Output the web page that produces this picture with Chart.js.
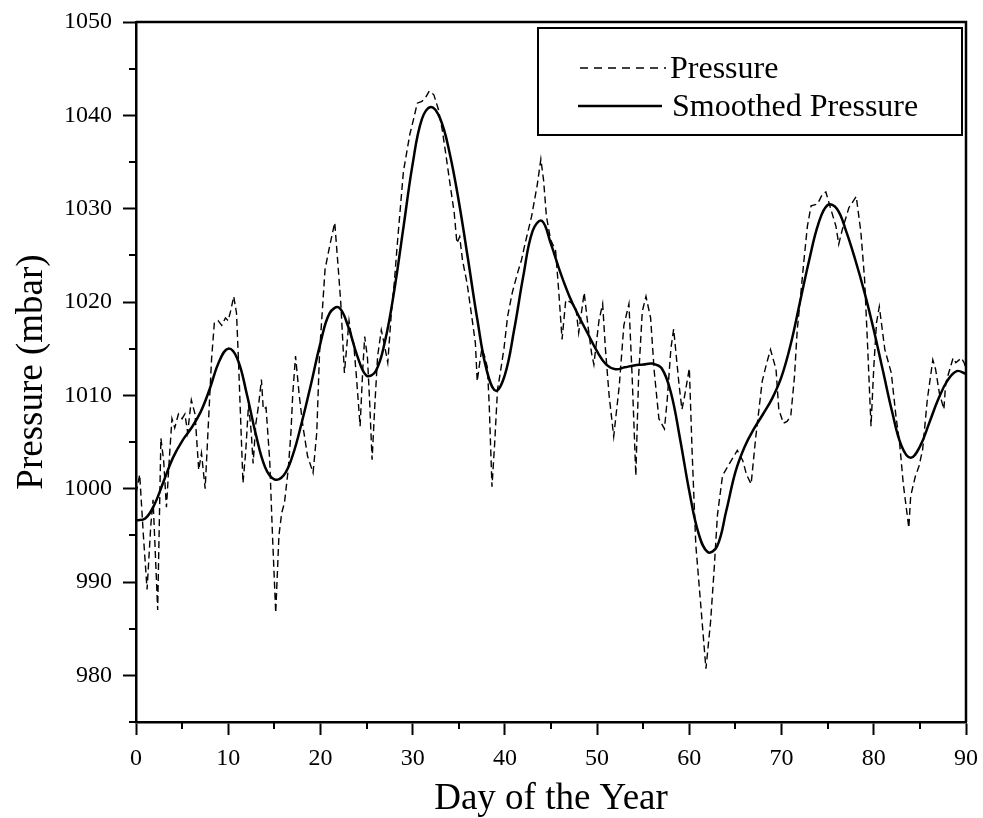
<!DOCTYPE html>
<html>
<head>
<meta charset="utf-8">
<script src="https://cdn.jsdelivr.net/npm/chart.js@4.4.1/dist/chart.umd.min.js"></script>
<style>
  html, body { margin: 0; padding: 0; background: #fff; }
  canvas { display: block; }
</style>
</head>
<body>
<canvas id="chart" width="983" height="818"></canvas>
<script>
// raw pressure readings (day, mbar)
const pressureDays = [
  0, 0.4, 0.8, 1.2, 1.6, 1.85, 2.1, 2.35, 2.7, 3.0, 3.3, 3.6, 3.9, 4.2, 4.6, 5.0, 5.3, 5.6, 6.0, 6.4,
  6.8, 7.1, 7.5, 7.9, 8.2, 8.5, 8.9, 9.3, 9.7, 10.0, 10.3, 10.6, 10.9, 11.1, 11.4, 11.6, 11.9, 12.2, 12.5, 12.7,
  13.0, 13.3, 13.6, 13.8, 14.1, 14.5, 14.8, 15.15, 15.5, 15.8, 16.1, 16.5, 16.8, 17.0, 17.3, 17.7, 18.1, 18.6, 19.2, 19.6,
  19.9, 20.5, 21.0, 21.55, 21.9, 22.2, 22.6, 23.1, 23.4, 23.6, 23.9, 24.3, 24.6, 24.8, 25.1, 25.35, 25.6, 25.9, 26.2, 26.6,
  26.9, 27.3, 27.7, 28.0, 28.4, 29.0, 29.7, 30.1, 30.5, 31.0, 31.4, 31.8, 32.3, 32.8, 33.2, 33.6, 34.0, 34.5, 34.8, 35.1,
  35.4, 35.9, 36.4, 36.8, 37.0, 37.2, 37.5, 37.8, 38.1, 38.3, 38.6, 38.9, 39.2, 39.5, 39.9, 40.3, 40.8, 41.4, 41.8, 42.2,
  42.9, 43.5, 43.9, 44.2, 44.5, 44.95, 45.5, 45.85, 46.2, 46.6, 47.1, 47.7, 48.0, 48.6, 49.0, 49.4, 49.65, 50.2, 50.6, 50.9,
  51.3, 51.8, 52.4, 52.9, 53.45, 53.8, 54.2, 54.5, 54.9, 55.3, 55.8, 56.2, 56.7, 57.3, 57.6, 58.0, 58.3, 58.9, 59.2, 59.5,
  60.0, 60.3, 60.7, 61.2, 61.8, 62.3, 62.7, 63.05, 63.6, 64.3, 65.2, 65.8, 66.2, 66.7, 67.2, 67.9, 68.4, 68.8, 69.4, 69.7,
  70.2, 70.6, 71.0, 71.4, 71.7, 72.1, 72.4, 72.8, 73.2, 73.9, 74.4, 74.8, 75.3, 75.9, 76.2, 76.6, 77.3, 78.1, 78.6, 79.0,
  79.3, 79.7, 80.0, 80.3, 80.6, 81.2, 81.9, 82.4, 82.8, 83.2, 83.8, 84.0, 84.5, 84.9, 85.3, 85.8, 86.4, 86.7, 87.1, 87.6,
  87.8, 88.6, 88.9, 89.5, 89.8, 90.0
];
const pressureValues = [
  999.5, 1001.5, 995, 989.2, 996, 998.8, 993, 987, 1005.4, 1003, 998, 1003, 1007.5, 1006.5, 1008, 1007.5, 1008, 1006, 1009.5, 1008,
  1002, 1003.8, 1000, 1008, 1014, 1017.8, 1018, 1017.5, 1018.3, 1018, 1019.2, 1020.6, 1018.8, 1014, 1006, 1000.6, 1004, 1009, 1006, 1002.7,
  1007, 1009, 1011.7, 1008.5, 1008.7, 1003, 995, 986.7, 995, 997.4, 998.5, 1002, 1006, 1010.2, 1014.2, 1010, 1006.7, 1003.5, 1001.7, 1006,
  1014.5, 1023.5, 1026, 1028.5, 1024, 1020, 1012.4, 1018, 1016, 1015.6, 1012, 1006.7, 1013, 1016.3, 1014, 1009, 1003.1, 1009, 1014.2, 1017,
  1015.6, 1013.5, 1019, 1022, 1027, 1034, 1038, 1039.6, 1041.3, 1041.5, 1041.9, 1042.6, 1042.2, 1040.6, 1038.5, 1035.8, 1033, 1029.6, 1026.3, 1027,
  1024.5, 1022, 1018.5, 1015.6, 1011.5, 1013, 1015, 1014.2, 1013, 1009, 1000.2, 1005, 1010.6, 1012.4, 1015, 1018.5, 1021, 1023.2, 1024.5, 1026.3,
  1029.2, 1032.5, 1035.3, 1033, 1029.2, 1026.7, 1025.5, 1021, 1016, 1020.2, 1020, 1019.4, 1016.7, 1021, 1017.5, 1014.5, 1013.3, 1018, 1019.8, 1015,
  1010, 1005.6, 1011, 1017.5, 1019.8, 1012, 1001.4, 1012, 1019, 1020.6, 1018.3, 1012.5, 1007.5, 1006.4, 1009.5, 1015, 1017.1, 1011, 1008.5, 1010,
  1012.9, 1004, 994, 988, 980.7, 985.7, 991.5, 997.2, 1001.4, 1002.6, 1004.1, 1003, 1001.5, 1000.5, 1005.5, 1011.5, 1013.5, 1014.9, 1012.8, 1008.5,
  1007, 1007.2, 1007.8, 1012, 1017, 1021, 1024.2, 1028.1, 1030.3, 1030.5, 1031.5, 1031.8, 1030.1, 1028.1, 1026.2, 1027.8, 1030.1, 1031.3, 1027.5, 1022.5,
  1016, 1006.7, 1013, 1017.8, 1019.5, 1014.9, 1012.4, 1007.8, 1004.9, 1000.5, 995.8, 999.2, 1001.3, 1002.4, 1004.2, 1009.5, 1013.8, 1012.8, 1010.3, 1008.5,
  1011.3, 1014, 1013.5, 1014, 1013.5, 1012.8
];

// smoothed curve, one value per day 0..90
const smoothValues = [
  996.6, 996.8, 998.3, 1000.8, 1003.3, 1005.1, 1006.5, 1008.2, 1010.7, 1013.6,
  1015.0, 1013.9, 1010.2, 1005.8, 1002.3, 1001.0, 1001.4, 1003.6, 1007.2, 1011.3,
  1015.6, 1018.8, 1019.4, 1017.4, 1014.2, 1012.1, 1012.6, 1015.8, 1021.2, 1028.0,
  1034.8, 1039.6, 1040.9, 1039.6, 1036.0, 1030.8, 1024.6, 1018.2, 1012.8, 1010.5,
  1012.2, 1017.0, 1022.8, 1027.6, 1028.7, 1026.2, 1023.2, 1020.6, 1018.5, 1016.6,
  1014.7, 1013.3, 1012.8, 1013.0, 1013.2, 1013.3, 1013.4, 1012.9, 1010.3, 1005.3,
  999.7, 995.2, 993.2, 993.8, 997.6, 1001.8, 1004.5, 1006.4, 1008.0, 1009.7,
  1012.0, 1015.5, 1020.0, 1024.5, 1028.4, 1030.4, 1030.0, 1027.6, 1024.5, 1021.0,
  1017.0, 1012.6, 1008.2, 1004.6, 1003.3, 1004.5, 1007.0, 1009.6, 1011.6, 1012.6,
  1012.3
];

const seriesNames = ['Pressure', 'Smoothed Pressure'];
const xTitle = 'Day of the Year';
const yTitle = 'Pressure (mbar)';

const FONT = '"Liberation Serif", "Times New Roman", serif';
const rawDash = [7, 4];

const rawPoints = pressureDays.map((d, i) => ({ x: d, y: pressureValues[i] }));
const smoothPoints = smoothValues.map((v, i) => ({ x: i, y: v }));

// draws the minor ticks, the top/right frame and the boxed legend
const framePlugin = {
  id: 'frame',
  afterDraw(chart) {
    const ctx = chart.ctx;
    const a = chart.chartArea;
    const xs = chart.scales.x, ys = chart.scales.y;
    ctx.save();
    ctx.strokeStyle = '#000';
    ctx.lineWidth = 2;
    // minor ticks
    xs.ticks.forEach(t => {
      if (t.value % 10 !== 0) {
        const px = Math.round(xs.getPixelForValue(t.value));
        ctx.beginPath(); ctx.moveTo(px, a.bottom); ctx.lineTo(px, a.bottom + 7); ctx.stroke();
      }
    });
    ys.ticks.forEach(t => {
      if (t.value % 10 !== 0) {
        const py = Math.round(ys.getPixelForValue(t.value));
        ctx.beginPath(); ctx.moveTo(a.left, py); ctx.lineTo(a.left - 7, py); ctx.stroke();
      }
    });
    // top and right edges
    ctx.lineWidth = 2.5;
    ctx.beginPath();
    ctx.moveTo(a.left, a.top);
    ctx.lineTo(a.right, a.top);
    ctx.lineTo(a.right, a.bottom);
    ctx.stroke();

    // legend box
    const bx = a.right - 428, by = a.top + 6, bw = 424, bh = 107;
    ctx.fillStyle = '#fff';
    ctx.fillRect(bx, by, bw, bh);
    ctx.lineWidth = 2;
    ctx.strokeRect(bx, by, bw, bh);
    const rows = [by + 40, by + 78];
    ctx.lineWidth = 1.4;
    ctx.setLineDash([8, 6]);
    ctx.beginPath(); ctx.moveTo(bx + 42, rows[0]); ctx.lineTo(bx + 128, rows[0]); ctx.stroke();
    ctx.setLineDash([]);
    ctx.lineWidth = 2.5;
    ctx.beginPath(); ctx.moveTo(bx + 40, rows[1]); ctx.lineTo(bx + 124, rows[1]); ctx.stroke();
    ctx.fillStyle = '#000';
    ctx.font = '32px ' + FONT;
    ctx.textBaseline = 'middle';
    ctx.fillText(seriesNames[0], bx + 132, rows[0] + 2);
    ctx.fillText(seriesNames[1], bx + 134, rows[1] + 2);
    ctx.restore();
  }
};

new Chart(document.getElementById('chart'), {
  type: 'line',
  data: {
    datasets: [
      {
        label: seriesNames[0],
        data: rawPoints,
        borderColor: '#000',
        borderWidth: 1.4,
        borderDash: rawDash,
        pointRadius: 0,
        tension: 0,
        fill: false
      },
      {
        label: seriesNames[1],
        data: smoothPoints,
        borderColor: '#000',
        borderWidth: 2.5,
        pointRadius: 0,
        tension: 0.4,
        fill: false
      }
    ]
  },
  options: {
    responsive: false,
    animation: false,
    layout: { padding: { top: 22, right: 17, left: 0, bottom: 0 } },
    plugins: { legend: { display: false }, tooltip: { enabled: false } },
    scales: {
      x: {
        type: 'linear',
        min: 0,
        max: 90,
        afterFit: s => { s.height = 96; s.paddingLeft = 0; s.paddingRight = 0; },
        ticks: {
          stepSize: 5,
          autoSkip: false,
          maxRotation: 0,
          padding: 9,
          color: '#000',
          font: { size: 24, family: FONT },
          callback: v => (v % 10 === 0 ? String(v) : '')
        },
        grid: {
          drawOnChartArea: false,
          tickLength: 13,
          tickWidth: 2,
          tickColor: c => (c.tick && c.tick.value % 10 === 0 ? '#000' : 'rgba(0,0,0,0)')
        },
        border: { color: '#000', width: 2.5 },
        title: {
          display: true,
          text: xTitle,
          color: '#000',
          font: { size: 37, family: FONT },
          padding: { top: 0, bottom: -3 }
        }
      },
      y: {
        min: 975,
        max: 1050,
        afterFit: s => { s.width = 136; s.paddingTop = 0; s.paddingBottom = 0; },
        ticks: {
          stepSize: 5,
          autoSkip: false,
          padding: 11,
          color: '#000',
          font: { size: 24, family: FONT },
          callback: v => (v % 10 === 0 ? String(v) : '')
        },
        grid: {
          drawOnChartArea: false,
          tickLength: 13,
          tickWidth: 2,
          tickColor: c => (c.tick && c.tick.value % 10 === 0 ? '#000' : 'rgba(0,0,0,0)')
        },
        border: { color: '#000', width: 2.5 },
        title: {
          display: true,
          text: yTitle,
          color: '#000',
          font: { size: 37, family: FONT },
          padding: { top: 10, bottom: 0 }
        }
      }
    }
  },
  plugins: [framePlugin]
});
</script>
</body>
</html>
